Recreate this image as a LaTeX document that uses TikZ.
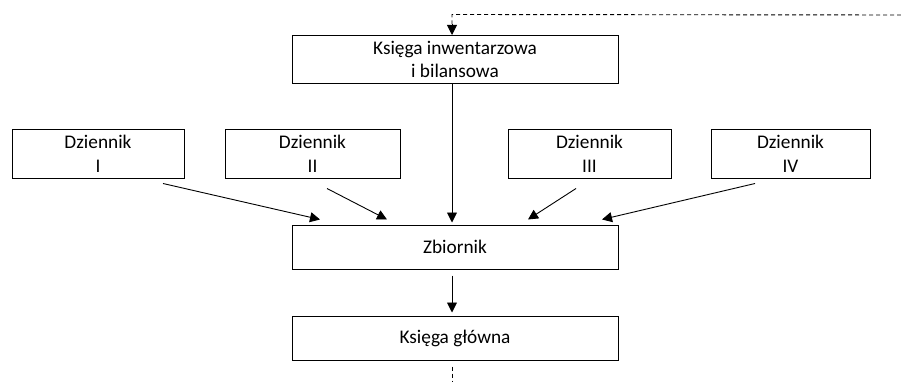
\documentclass[tikz,border=0pt]{standalone}
\usepackage{fontspec}
\setmainfont{Carlito}
\usetikzlibrary{arrows.meta}
\begin{document}
\begin{tikzpicture}[x=1pt,y=-1pt,
  box/.style={draw,line width=1pt,inner sep=0pt,align=center,font=\fontsize{19.3}{23.5}\selectfont},
  arr/.style={line width=0.9pt,-{Triangle[length=10pt,width=10pt]}},
  dsh/.style={line width=0.9pt,dash pattern=on 4pt off 3pt}]
\useasboundingbox (0,0) rectangle (901,382);
\node[box,minimum width=326pt,minimum height=48pt] (top) at (455,59.5) {Księga inwentarzowa\\i bilansowa};
\node[box,minimum width=172pt,minimum height=48pt] (d1) at (98,154) {Dziennik\\I};
\node[box,minimum width=175pt,minimum height=48pt] (d2) at (312.5,154) {Dziennik\\II};
\node[box,minimum width=163pt,minimum height=48pt] (d3) at (589.5,154) {Dziennik\\III};
\node[box,minimum width=159pt,minimum height=48pt] (d4) at (790.5,154) {Dziennik\\IV};
\node[box,minimum width=326pt,minimum height=44pt] (zb) at (455,247) {Zbiornik};
\node[box,minimum width=326pt,minimum height=44pt] (kg) at (455,338) {Księga główna};
\coordinate (fb) at (901,15);
\coordinate (fe) at (452,382);
\draw[dsh] (fb) -- ([shift={(-3,-20.5)}]top.north) -- ([shift={(-3,-11)}]top.north);
\draw[arr] ([shift={(-3,-11)}]top.north) -- ([shift={(-3,0)}]top.north);
\draw[arr] ([shift={(-3,0)}]top.south) -- ([shift={(-3,-2)}]zb.north);
\draw[arr] ([shift={(65,5)}]d1.south) -- ([shift={(-135,-5)}]zb.north);
\draw[arr] ([shift={(14.5,10)}]d2.south) -- ([shift={(-68,-5)}]zb.north);
\draw[arr] ([shift={(-13.5,10)}]d3.south) -- ([shift={(73,-5)}]zb.north);
\draw[arr] ([shift={(-35.5,5)}]d4.south) -- ([shift={(147,-5)}]zb.north);
\draw[arr] ([shift={(-3,6)}]zb.south) -- ([shift={(-3,-3)}]kg.north);
\draw[dsh] ([shift={(-3,6)}]kg.south) -- (fe);
\end{tikzpicture}
\end{document}
